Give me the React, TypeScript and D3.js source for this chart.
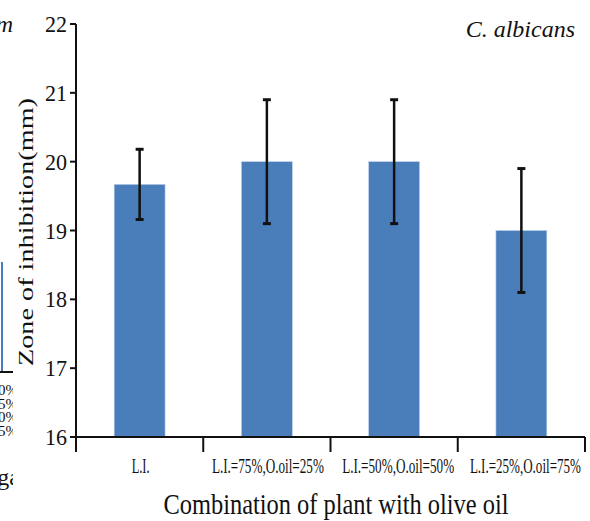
import React from "react";
import * as d3 from "d3";

// chart data
const categories = ["L.I.", "L.I.=75%,O.oil=25%", "L.I.=50%,O.oil=50%", "L.I.=25%,O.oil=75%"];
const means = [19.67, 20, 20, 19];
const errors = [0.51, 0.9, 0.9, 0.9];
const yTicks = [16, 17, 18, 19, 20, 21, 22];
// measured text widths of the squeezed category labels
const labelWidths = [18, 112, 112, 111];

// fragment of the neighbouring panel on the left edge
const leftPct = ["0%", "5%", "0%", "5%"];

const W = 590;
const H = 521;
const left = 76;
const right = 585;
const top = 24;
const bottom = 437;

const serif = "'Liberation Serif', 'Times New Roman', serif";
const barColour = "#4a7ebb";

export default function App() {
  const x = d3.scaleBand<string>().domain(categories).range([left, right]).padding(0);
  const y = d3.scaleLinear().domain([16, 22]).range([bottom, top]);
  const barW = x.bandwidth() * 0.4;
  const bounds = categories.map((c) => x(c) as number).concat([right]);

  return (
    <svg width={W} height={H} style={{ position: "absolute", left: 0, top: 0, background: "#fff" }}>
      <defs>
        <clipPath id="leftclip">
          <rect x={0} y={0} width={13} height={H} />
        </clipPath>
      </defs>

      {/* bits of the other chart cut off at the left */}
      <g clipPath="url(#leftclip)" fontFamily={serif} fill="#111">
        <text x={13} y={32} fontSize={24} fontStyle="italic" textAnchor="end">m</text>
        <line x1={2} x2={2} y1={262} y2={372} stroke={barColour} strokeWidth={2} />
        <line x1={0} x2={13} y1={372} y2={372} stroke="#111" strokeWidth={2} />
        {leftPct.map((t, i) => (
          <text key={i} x={18} y={395 + i * 13.5} fontSize={15} textAnchor="end">{t}</text>
        ))}
        <text x={20} y={485} fontSize={24} textAnchor="end">ga</text>
      </g>

      {/* bars */}
      {categories.map((c, i) => {
        const cx = (x(c) as number) + x.bandwidth() / 2;
        return (
          <rect key={c} x={cx - barW / 2} y={y(means[i])} width={barW} height={bottom - y(means[i])}
            fill={barColour} stroke="#bcd0ea" strokeWidth={0.6} />
        );
      })}

      {/* error bars */}
      {categories.map((c, i) => {
        const cx = (x(c) as number) + x.bandwidth() / 2;
        const hi = y(means[i] + errors[i]);
        const lo = y(means[i] - errors[i]);
        return (
          <g key={c} stroke="#111">
            <line x1={cx} x2={cx} y1={hi} y2={lo} strokeWidth={2.5} />
            <line x1={cx - 4} x2={cx + 4} y1={hi} y2={hi} strokeWidth={3} />
            <line x1={cx - 4} x2={cx + 4} y1={lo} y2={lo} strokeWidth={3} />
          </g>
        );
      })}

      {/* y axis */}
      <line x1={left} x2={left} y1={top} y2={bottom} stroke="#111" strokeWidth={2} />
      {yTicks.map((t) => (
        <g key={t}>
          <line x1={left - 6} x2={left} y1={y(t)} y2={y(t)} stroke="#111" strokeWidth={2} />
          <text x={67} y={y(t) + 8} fontFamily={serif} fontSize={24} textAnchor="end"
            textLength={22} lengthAdjust="spacingAndGlyphs" fill="#111">{t}</text>
        </g>
      ))}

      {/* x axis */}
      <line x1={left} x2={right} y1={bottom} y2={bottom} stroke="#111" strokeWidth={2} />
      {bounds.map((b, i) => (
        <line key={i} x1={b} x2={b} y1={bottom} y2={bottom + 15} stroke="#111" strokeWidth={2} />
      ))}
      {categories.map((c, i) => (
        <text key={c} x={(x(c) as number) + x.bandwidth() / 2 + (i > 1 ? 4 : 1)} y={473}
          fontFamily={serif} fontSize={22} textAnchor="middle"
          textLength={labelWidths[i]} lengthAdjust="spacingAndGlyphs" fill="#111">{c}</text>
      ))}

      {/* titles */}
      <text x={336} y={514} fontFamily={serif} fontSize={29} textAnchor="middle"
        textLength={345} lengthAdjust="spacingAndGlyphs" fill="#111">Combination of plant with olive oil</text>
      <text transform={`translate(33,232) rotate(-90)`} fontFamily={serif} fontSize={22} textAnchor="middle"
        textLength={268} lengthAdjust="spacingAndGlyphs" fill="#111">Zone of inhibition(mm)</text>
      <text x={575} y={37} fontFamily={serif} fontSize={24} fontStyle="italic" textAnchor="end"
        fill="#111">C. albicans</text>
    </svg>
  );
}
